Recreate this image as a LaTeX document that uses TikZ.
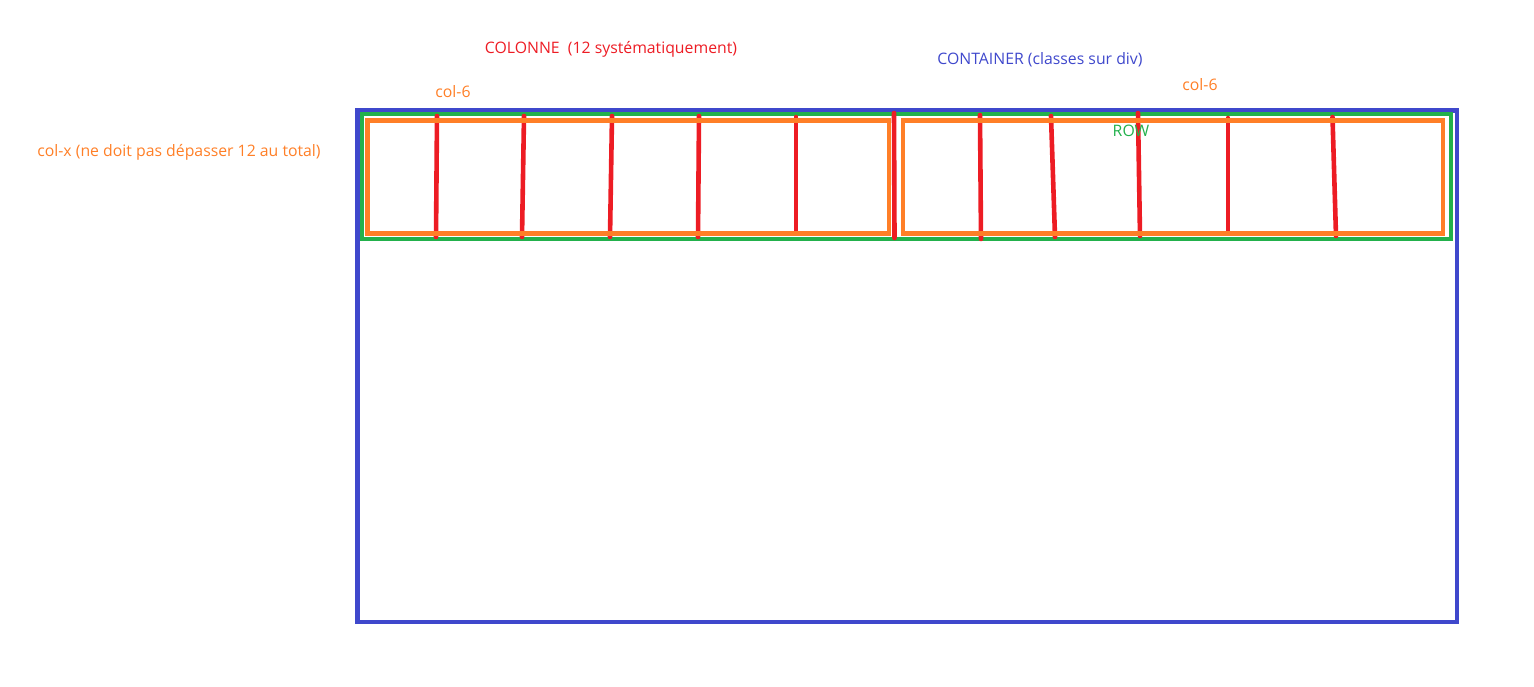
\documentclass[tikz,border=0pt]{standalone}
\usepackage{fontspec}
\setmainfont{Open Sans}
\usepackage{xcolor}
\definecolor{paintblue}{HTML}{3F48CC}
\definecolor{paintgreen}{HTML}{22B14C}
\definecolor{paintorange}{HTML}{FF7F27}
\definecolor{paintred}{HTML}{ED1C24}
\begin{document}
\begin{tikzpicture}[x=1pt,y=-1pt,every node/.style={font=\fontsize{15.8}{19}\selectfont,inner sep=0pt},
  colline/.style={paintred,line width=4.6pt,line cap=round}]
\useasboundingbox (0,0) rectangle (1534,687);
% boxes
\draw[paintblue,line width=4.5pt] (357.5,110.5) rectangle (1457,622);
\draw[paintgreen,line width=4pt] (362,114) rectangle (1451,239);
% columns
\draw[colline] (437,116)--(436,237); \draw[colline] (524,116)--(522,237); \draw[colline] (612,116)--(610,237); \draw[colline] (699,116)--(698,237); \draw[colline] (796,117)--(796,231);
\draw[colline] (894,113)--(894.5,238);
\draw[colline] (980,115)--(981,239); \draw[colline] (1051,116)--(1055,237); \draw[colline] (1138,113)--(1140,236); \draw[colline] (1228,118)--(1228,232); \draw[colline] (1332.5,117)--(1336,236);
\draw[paintorange,line width=4.5pt] (367.5,120.5) rectangle (889,233.5);
\draw[paintorange,line width=4.5pt] (903,120.5) rectangle (1443,233.5);
% labels
\node[paintred] (colonne) at (611,49) {COLONNE\ \ (12 systématiquement)};
\node[paintblue] (container) at (1040,60) {CONTAINER (classes sur div)};
\node[paintorange] (colsixa) at (453,92) {col-6}; \node[paintorange] (colsixb) at (1200,85) {col-6};
\node[paintgreen] (row) at (1131,131) {ROW};
\node[paintorange] (colx) at (179,152) {col-x (ne doit pas dépasser 12 au total)};
\end{tikzpicture}
\end{document}
